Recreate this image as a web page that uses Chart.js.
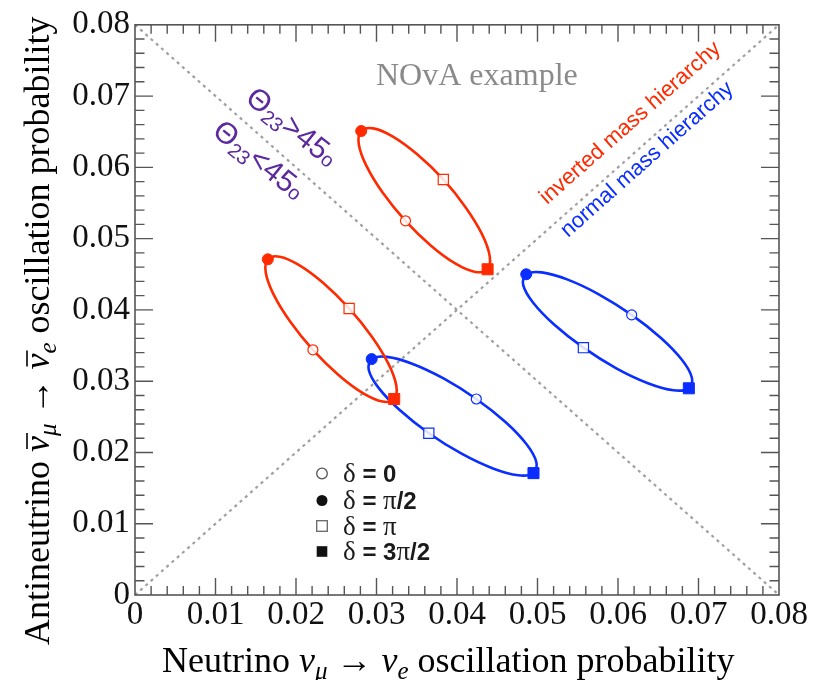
<!DOCTYPE html>
<html>
<head>
<meta charset="utf-8">
<script src="https://cdn.jsdelivr.net/npm/chart.js@4/dist/chart.umd.min.js"></script>
<style>
  html, body { margin: 0; padding: 0; background: #fff; }
  #wrap { width: 829px; height: 680px; }
</style>
</head>
<body>
<div id="wrap"><canvas id="c" width="829" height="680"></canvas></div>
<script>
// ---------------- data ----------------
const xTickValues = [0, 0.01, 0.02, 0.03, 0.04, 0.05, 0.06, 0.07, 0.08];
const xTickLabels = ['0', '0.01', '0.02', '0.03', '0.04', '0.05', '0.06', '0.07', '0.08'];
const yTickValues = [0, 0.01, 0.02, 0.03, 0.04, 0.05, 0.06, 0.07, 0.08];
const yTickLabels = ['0', '0.01', '0.02', '0.03', '0.04', '0.05', '0.06', '0.07', '0.08'];

// loops traced around delta (starting at delta = 0)
// inverted hierarchy, theta23 > 45 (upper red loop)
const ihUpperX = [0.0336,0.03078,0.02875,0.0278,0.0281,0.02959,0.03204,0.03509,0.0383,0.04108,0.04312,0.04406,0.0438,0.04227,0.03982,0.03677];
const ihUpperY = [0.0525,0.05643,0.06021,0.06325,0.0651,0.06547,0.06431,0.06179,0.0583,0.05437,0.05059,0.04755,0.0457,0.04533,0.04649,0.04901];
// inverted hierarchy, theta23 < 45 (lower red loop)
const ihLowerX = [0.0221,0.01927,0.01721,0.01624,0.0165,0.01796,0.02039,0.02343,0.0266,0.02943,0.03149,0.03246,0.0322,0.03074,0.02831,0.02528];
const ihLowerY = [0.0344,0.03837,0.04218,0.04524,0.0471,0.04746,0.04628,0.04373,0.0402,0.03623,0.03242,0.02936,0.0275,0.02714,0.02832,0.03087];
// normal hierarchy, theta23 < 45 (lower blue loop)
const nhLowerX = [0.0424,0.03833,0.03443,0.03129,0.0294,0.02904,0.03026,0.03288,0.0365,0.04057,0.04447,0.04761,0.0495,0.04986,0.04864,0.04602];
const nhLowerY = [0.0275,0.03038,0.03245,0.03341,0.0331,0.03157,0.02906,0.02595,0.0227,0.01982,0.01775,0.01679,0.0171,0.01863,0.02114,0.02426];
// normal hierarchy, theta23 > 45 (upper blue loop)
const nhUpperX = [0.0617,0.05761,0.05368,0.05052,0.0486,0.04822,0.04944,0.05206,0.0557,0.05979,0.06372,0.06688,0.0688,0.06918,0.06796,0.06534];
const nhUpperY = [0.0393,0.04219,0.04428,0.04527,0.0450,0.04351,0.04103,0.03794,0.0347,0.03181,0.02972,0.02873,0.0290,0.03049,0.03297,0.03606];

// delta markers: [delta=0, delta=pi/2, delta=pi, delta=3pi/2]
const ihUpperDeltaX = [0.0336, 0.0281, 0.0383, 0.0438];
const ihUpperDeltaY = [0.0525, 0.0651, 0.0583, 0.0457];
const ihLowerDeltaX = [0.0221, 0.0165, 0.0266, 0.0322];
const ihLowerDeltaY = [0.0344, 0.0471, 0.0402, 0.0275];
const nhLowerDeltaX = [0.0424, 0.0294, 0.0365, 0.0495];
const nhLowerDeltaY = [0.0275, 0.0331, 0.0227, 0.0171];
const nhUpperDeltaX = [0.0617, 0.0486, 0.0557, 0.0688];
const nhUpperDeltaY = [0.0393, 0.0450, 0.0347, 0.0290];

// guide diagonals
const diagUpX = [0, 0.08];
const diagUpY = [0, 0.08];
const diagDownX = [0, 0.08];
const diagDownY = [0.08, 0];

const legendLabels = ['δ = 0', 'δ = π/2', 'δ = π', 'δ = 3π/2'];
const titleText = 'NOvA example';
const ihLabel = 'inverted mass hierarchy';
const nhLabel = 'normal mass hierarchy';

// ---------------- styling ----------------
const RED = '#ff2a00';
const BLUE = '#0a2eff';
const PURPLE = '#5b2a9e';
const SERIF = '"Liberation Serif", "Times New Roman", serif';
const SANS = '"Liberation Sans", Arial, Helvetica, sans-serif';

function pts(xs, ys) {
  return xs.map((x, i) => ({ x: x, y: ys[i] }));
}

function markerSet(xs, ys, color) {
  return {
    type: 'scatter',
    data: pts(xs, ys),
    showLine: false,
    pointStyle: ['circle', 'circle', 'rect', 'rect'],
    pointRadius: [5, 5.5, 7.2, 7.8],
    pointBackgroundColor: ['rgba(255,255,255,0.85)', color, 'rgba(255,255,255,0.85)', color],
    pointBorderColor: color,
    pointBorderWidth: [1.2, 1, 1.2, 1],
    order: 0
  };
}

// closed loop: wrap with neighbours so the spline is smooth at the seam,
// and hide the two helper segments
function loopSet(xs, ys, color) {
  const p = pts(xs, ys);
  const data = [p[p.length - 1], ...p, p[0], p[1]];
  const last = data.length - 1;
  return {
    type: 'line',
    data: data,
    borderColor: color,
    borderWidth: 2.6,
    pointRadius: 0,
    tension: 0.36,
    fill: false,
    order: 1,
    segment: {
      borderColor: (c) => (c.p0DataIndex === 0 || c.p1DataIndex === last) ? 'rgba(0,0,0,0)' : color
    }
  };
}

function diagSet(xs, ys) {
  return {
    type: 'line',
    data: pts(xs, ys),
    borderColor: '#a0a0a0',
    borderWidth: 2.2,
    borderDash: [3, 4],
    pointRadius: 0,
    fill: false,
    order: 2
  };
}

// ---------------- helpers for rich text ----------------
function drawSegs(ctx, segs, x, y) {
  for (const s of segs) {
    ctx.font = s.font;
    ctx.fillStyle = s.color || '#000';
    const dy = s.dy || 0;
    ctx.fillText(s.text, x, y + dy);
    const w = ctx.measureText(s.text).width;
    if (s.bar) {
      ctx.save();
      ctx.strokeStyle = s.color || '#000';
      ctx.lineWidth = 1.6;
      ctx.beginPath();
      ctx.moveTo(x + 3, y - s.bar);
      ctx.lineTo(x + w + 3, y - s.bar);
      ctx.stroke();
      ctx.restore();
    }
    x += w;
  }
  return x;
}

const decorPlugin = {
  id: 'decor',
  afterDraw(chart) {
    const ctx = chart.ctx;
    const { left, right, top, bottom } = chart.chartArea;
    const xs = chart.scales.x, ys = chart.scales.y;
    ctx.save();

    // frame
    ctx.strokeStyle = '#555';
    ctx.lineWidth = 1.6;
    ctx.strokeRect(left, top, right - left, bottom - top);

    // inward ticks, all four sides
    ctx.lineWidth = 1.4;
    ctx.beginPath();
    for (let i = 1; i < 40; i++) {
      const v = i * 0.002;
      const major = i % 5 === 0;
      const lx = major ? 17 : 9;
      const ly = major ? 18 : 9.5;
      const px = xs.getPixelForValue(v);
      const py = ys.getPixelForValue(v);
      ctx.moveTo(px, bottom); ctx.lineTo(px, bottom - lx);
      ctx.moveTo(px, top); ctx.lineTo(px, top + lx);
      ctx.moveTo(left, py); ctx.lineTo(left + ly, py);
      ctx.moveTo(right, py); ctx.lineTo(right - ly, py);
    }
    ctx.stroke();

    ctx.textBaseline = 'alphabetic';
    ctx.textAlign = 'left';

    // NOvA example
    ctx.font = '32px ' + SERIF;
    ctx.fillStyle = '#8a8a8a';
    ctx.fillText(titleText, 376, 85);

    // hierarchy labels
    const ang = -Math.atan2(bottom - top, right - left);
    ctx.save();
    ctx.translate(547, 205);
    ctx.rotate(ang);
    ctx.font = '22px ' + SANS;
    ctx.fillStyle = RED;
    ctx.fillText(ihLabel, 0, 0);
    ctx.restore();

    ctx.save();
    ctx.translate(568, 238);
    ctx.rotate(ang);
    ctx.font = '22px ' + SANS;
    ctx.fillStyle = BLUE;
    ctx.fillText(nhLabel, 0, 0);
    ctx.restore();

    // theta labels
    const tang = 38.5 * Math.PI / 180;
    const thetaSegs = (sym) => [
      { text: 'Θ', font: '30px ' + SANS, color: PURPLE },
      { text: '23', font: '20px ' + SANS, color: PURPLE, dy: 5 },
      { text: sym + '45', font: '30px ' + SANS, color: PURPLE },
      { text: 'o', font: '20px ' + SANS, color: PURPLE, dy: 1 }
    ];
    ctx.save();
    ctx.translate(244, 101);
    ctx.rotate(tang);
    drawSegs(ctx, thetaSegs('>'), 0, 0);
    ctx.restore();
    ctx.save();
    ctx.translate(211, 134);
    ctx.rotate(tang);
    drawSegs(ctx, thetaSegs('<'), 0, 0);
    ctx.restore();

    // axis titles
    const F = 36, S = 25;
    const xTitle = [
      { text: 'Neutrino ', font: F + 'px ' + SERIF },
      { text: 'ν', font: 'italic ' + F + 'px ' + SERIF },
      { text: 'μ', font: 'italic ' + S + 'px ' + SERIF, dy: 7 },
      { text: ' → ', font: F + 'px ' + SERIF },
      { text: 'ν', font: 'italic ' + F + 'px ' + SERIF },
      { text: 'e', font: 'italic ' + S + 'px ' + SERIF, dy: 7 },
      { text: ' oscillation probability', font: F + 'px ' + SERIF }
    ];
    drawSegs(ctx, xTitle, 162, 672);

    const yTitle = [
      { text: 'Antineutrino ', font: F + 'px ' + SERIF },
      { text: 'ν', font: 'italic ' + F + 'px ' + SERIF, bar: 22 },
      { text: 'μ', font: 'italic ' + S + 'px ' + SERIF, dy: 7 },
      { text: ' → ', font: F + 'px ' + SERIF },
      { text: 'ν', font: 'italic ' + F + 'px ' + SERIF, bar: 22 },
      { text: 'e', font: 'italic ' + S + 'px ' + SERIF, dy: 7 },
      { text: ' oscillation probability', font: F + 'px ' + SERIF }
    ];
    ctx.save();
    ctx.translate(49, 645);
    ctx.rotate(-Math.PI / 2);
    drawSegs(ctx, yTitle, 0, 0);
    ctx.restore();

    // legend
    const rows = [473.5, 500.5, 526, 551.5];
    const mx = 322;
    ctx.lineWidth = 1.3;
    legendLabels.forEach((lab, i) => {
      const cy = rows[i];
      ctx.beginPath();
      if (i === 0) { ctx.strokeStyle = '#555'; ctx.arc(mx, cy, 5.3, 0, Math.PI * 2); ctx.stroke(); }
      if (i === 1) { ctx.fillStyle = '#111'; ctx.arc(mx, cy, 5.5, 0, Math.PI * 2); ctx.fill(); }
      if (i === 2) { ctx.strokeStyle = '#666'; ctx.strokeRect(mx - 5.3, cy - 5.3, 10.6, 10.6); }
      if (i === 3) { ctx.fillStyle = '#111'; ctx.fillRect(mx - 5.3, cy - 5.3, 10.6, 10.6); }
      const segs = [];
      for (const ch of lab) {
        if (ch === 'δ' || ch === 'π') segs.push({ text: ch, font: '27px ' + SERIF, color: '#1a1a1a' });
        else segs.push({ text: ch, font: 'bold 24px ' + SANS, color: '#1a1a1a' });
      }
      drawSegs(ctx, segs, 343, cy + 8.5);
    });

    ctx.restore();
  }
};

const datasets = [
  markerSet(ihUpperDeltaX, ihUpperDeltaY, RED),
  markerSet(ihLowerDeltaX, ihLowerDeltaY, RED),
  markerSet(nhLowerDeltaX, nhLowerDeltaY, BLUE),
  markerSet(nhUpperDeltaX, nhUpperDeltaY, BLUE),
  loopSet(ihUpperX, ihUpperY, RED),
  loopSet(ihLowerX, ihLowerY, RED),
  loopSet(nhLowerX, nhLowerY, BLUE),
  loopSet(nhUpperX, nhUpperY, BLUE),
  diagSet(diagUpX, diagUpY),
  diagSet(diagDownX, diagDownY)
];

new Chart(document.getElementById('c'), {
  type: 'scatter',
  data: { datasets: datasets },
  options: {
    responsive: false,
    animation: false,
    devicePixelRatio: 1,
    layout: { padding: { top: 23.5, right: 50, left: 0, bottom: 0 } },
    plugins: { legend: { display: false }, tooltip: { enabled: false } },
    scales: {
      x: {
        type: 'linear', min: 0, max: 0.08,
        afterBuildTicks: (s) => { s.ticks = xTickValues.map(v => ({ value: v })); },
        afterFit: (s) => { s.height = 85; },
        ticks: {
          autoSkip: false, maxRotation: 0, padding: 1, color: '#111',
          font: { family: SERIF, size: 33 },
          callback: (v, i) => xTickLabels[i]
        },
        grid: { display: false, drawTicks: false },
        border: { display: false }
      },
      y: {
        type: 'linear', min: 0, max: 0.08,
        afterBuildTicks: (s) => { s.ticks = yTickValues.map(v => ({ value: v })); },
        afterFit: (s) => { s.width = 135; },
        ticks: {
          autoSkip: false, padding: 5, color: '#111',
          font: { family: SERIF, size: 33 },
          callback: (v, i) => yTickLabels[i]
        },
        grid: { display: false, drawTicks: false },
        border: { display: false }
      }
    }
  },
  plugins: [decorPlugin]
});
</script>
</body>
</html>
